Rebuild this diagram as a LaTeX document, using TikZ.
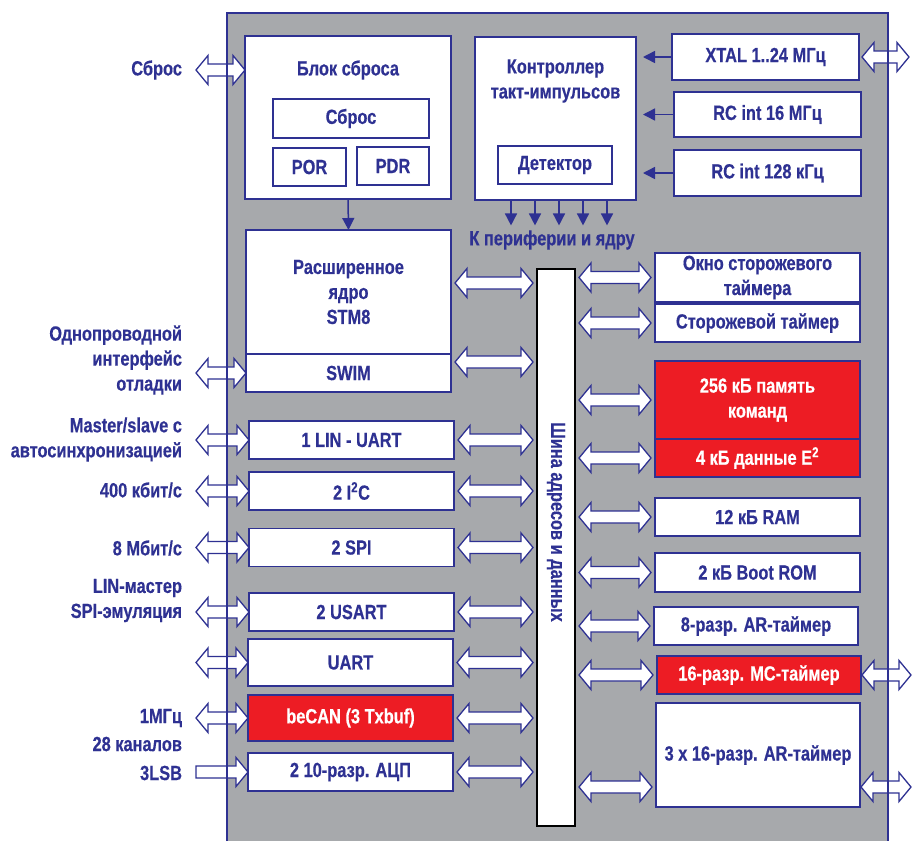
\documentclass[tikz,border=0pt]{standalone}
\usepackage{fontspec}
\newfontfamily\chipfont{Liberation Sans}[FakeStretch=0.8, BoldFeatures={FakeBold=0.4}]
\usetikzlibrary{arrows.meta,calc}
\definecolor{chipblue}{RGB}{46,49,146}
\definecolor{chipgray}{RGB}{167,169,172}
\definecolor{chipred}{RGB}{237,28,36}
\newcommand{\fatgap}{4}
\begin{document}
\begin{tikzpicture}[x=1pt,y=-1pt,
  every node/.style={font=\chipfont\bfseries\fontsize{20.5}{25}\selectfont, text=chipblue, inner sep=0pt, outer sep=0pt, align=center},
  blk/.style={draw=chipblue, line width=1.5pt, fill=white},
  pbox/.style={blk, minimum width=205, minimum height=38},
  redblk/.style={pbox, fill=chipred, text=white},
  lbl/.style={anchor=east, align=right},
  sig/.style={draw=chipblue, line width=1.5pt, -{Triangle[length=12pt,width=12pt]}},
  fatgap/.code={\def\fatgap{#1}},
  fat/.style={draw=chipblue, fill=white, line width=1.3pt, to path={let \p1=(\tikztostart), \p2=(\tikztotarget) in
    (\x1+\fatgap,\y1) -- (\x1+\fatgap+12,\y1+14.5) -- (\x1+\fatgap+12,\y1+6) -- (\x2-\fatgap-12,\y1+6)
    -- (\x2-\fatgap-12,\y1+14.5) -- (\x2-\fatgap,\y1) -- (\x2-\fatgap-12,\y1-14.5) -- (\x2-\fatgap-12,\y1-6)
    -- (\x1+\fatgap+12,\y1-6) -- (\x1+\fatgap+12,\y1-14.5) -- cycle}},
  fatone/.style={draw=chipblue, fill=white, line width=1.3pt, to path={let \p1=(\tikztostart), \p2=(\tikztotarget) in
    (\x1,\y1+6) -- (\x2-\fatgap-12,\y1+6) -- (\x2-\fatgap-12,\y1+14.5) -- (\x2-\fatgap,\y1)
    -- (\x2-\fatgap-12,\y1-14.5) -- (\x2-\fatgap-12,\y1-6) -- (\x1,\y1-6) -- cycle}}]
\useasboundingbox (0,0) rectangle (912,841);
\fill[chipgray] (227,13) rectangle (888,841);

\node[blk, minimum width=206, minimum height=163] (rstblk) at (348,117.5) {};
\node (rsttitle) at (348,70) {Блок сброса};
\node[blk, minimum width=156, minimum height=39] (rstin) at (351,118.5) {Сброс};
\node[blk, minimum width=73, minimum height=38] (por) at (309.5,167) {POR};
\node[blk, minimum width=72, minimum height=38] (pdr) at (393,166) {PDR};
\node[pbox, minimum height=124] (core) at (348.5,292) {Расширенное\\ядро\\STM8};
\node[pbox] (swim) at (348.5,373) {SWIM};
\node[pbox] (lin) at (351.5,440) {1 LIN - UART};
\node[pbox] (i2c) at (351.5,491) {2 I\textsuperscript{2}C};
\node[pbox] (spi) at (351.5,547.5) {2 SPI};
\node[pbox] (usart) at (351.5,612) {2 USART};
\node[pbox, minimum height=47] (uart) at (350.5,662.5) {UART};
\node[redblk, minimum height=46] (becan) at (350.5,718) {beCAN (3 Txbuf)};
\node[pbox] (adc) at (350.5,772) {2 10-разр. АЦП};

\node[blk, minimum width=161, minimum height=163] (clk) at (555.5,118.5) {};
\node (clktitle) at (555.5,81) {Контроллер\\такт-импульсов};
\node[blk, minimum width=114, minimum height=38] (det) at (555,165) {Детектор};
\node[blk, minimum width=187, minimum height=46] (xtal) at (765.5,57) {XTAL 1..24 МГц};
\node[blk, minimum width=187, minimum height=45] (rc16) at (767.5,114.5) {RC int 16 МГц};
\node[blk, minimum width=187, minimum height=46] (rc128) at (767.5,173) {RC int 128 кГц};
\node (periph) at (552,240) {К периферии и ядру};

\node[draw=black, line width=1.5pt, fill=white, minimum width=38, minimum height=557] (busbar) at (556,547.5) {};
\node[rotate=-90] (bustext) at (556,522) {Шина адресов и данных};

\node[pbox, minimum height=49] (wwdg) at (757.5,277.5) {Окно сторожевого\\таймера};
\node[pbox] (iwdg) at (757.5,323) {Сторожевой таймер};
\node[redblk, minimum height=78] (flash) at (757.5,400) {256 кБ память\\команд};
\node[redblk] (eep) at (757.5,458) {4 кБ данные E\textsuperscript{2}};
\node[pbox] (ram) at (757.5,517) {12 кБ RAM};
\node[pbox, minimum height=39] (rom) at (757.5,572.5) {2 кБ Boot ROM};
\node[pbox, minimum width=204] (tim8) at (756,626) {8-разр. AR-таймер};
\node[redblk, minimum width=204, line width=2.5pt] (tim16mc) at (759,675) {16-разр. MC-таймер};
\node[pbox, minimum width=204, minimum height=104] (tim16ar) at (758,755) {3 x 16-разр. AR-таймер};

\node[lbl] (lrst) at (182,70) {Сброс};
\node[lbl] (lswim) at (182,360) {Однопроводной\\интерфейс\\отладки};
\node[lbl] (llin) at (182,439.5) {Master/slave с\\автосинхронизацией};
\node[lbl] (li2c) at (182,490) {400 кбит/с};
\node[lbl] (lspi) at (182,548) {8 Мбит/с};
\node[lbl] (lusart) at (182,600.5) {LIN-мастер\\SPI-эмуляция};
\node[lbl] (lcan) at (182,718) {1МГц};
\node[lbl] (lch) at (182,744) {28 каналов};
\node[lbl] (ladc) at (182,773) {3LSB};

\coordinate (pinL) at (196,0);
\coordinate (pinR) at (912,0);
\coordinate (coreR) at ([yshift=9pt]core.east);
\coordinate (swimR) at ([yshift=11pt]swim.east);
\coordinate (arL) at ([yshift=-32pt]tim16ar.west);

\draw[fat, fatgap=0] (pinL |- lrst) to (rstblk.west);
\foreach \b in {swim,lin,i2c,spi,usart,uart,becan}
  \draw[fat, fatgap=0] (pinL |- \b) to (\b.west);
\draw[fatone, fatgap=0] (pinL |- adc) to (adc.west);
\draw[fat] (coreR) to (busbar.west);
\draw[fat] (swimR) to (busbar.west);
\foreach \b in {lin,i2c,spi,usart,uart,becan,adc}
  \draw[fat] (\b.east) to (busbar.west);
\foreach \b in {wwdg,iwdg,flash,eep,ram,rom,tim8,tim16mc}
  \draw[fat] (busbar.east |- \b) to (\b.west);
\draw[fat] (busbar.east |- arL) to (arL);
\draw[fat, fatgap=3] (xtal.east) to (pinR);
\draw[fat, fatgap=1] (tim16mc.east) to (pinR);
\draw[fat, fatgap=1] (tim16ar.east |- arL) to (pinR);

\foreach \o in {xtal,rc16,rc128}
  \draw[sig, shorten >=7pt] (\o.west) -- (clk.east |- \o);
\draw[sig] (rstblk.south) -- (core.north);
\foreach \x in {511,535,559,583,607}
  \draw[sig, shorten >=5pt] (clk.south -| \x,0) -- (periph.north -| \x,0);

\draw[chipblue, line width=2.5pt] (227,841) -- (227,13) -- (888,13) -- (888,841);
\end{tikzpicture}
\end{document}
